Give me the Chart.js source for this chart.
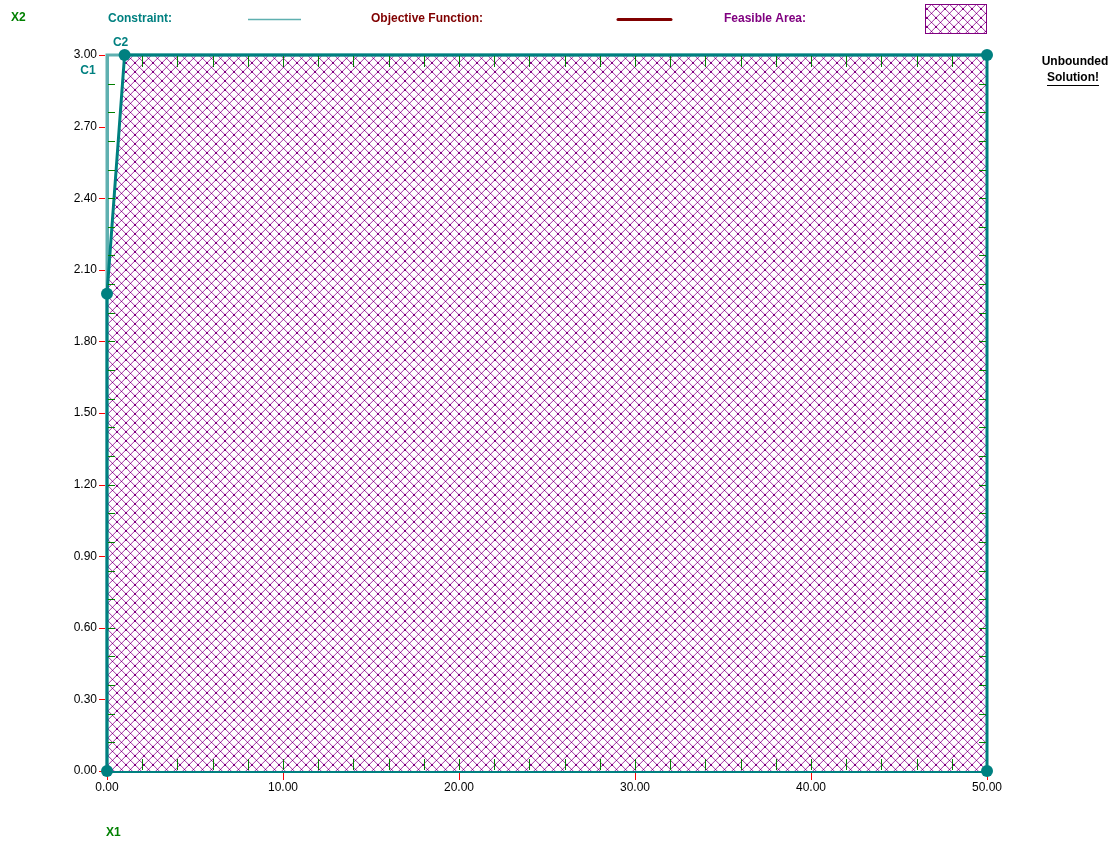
<!DOCTYPE html>
<html>
<head>
<meta charset="utf-8">
<script src="https://cdn.jsdelivr.net/npm/chart.js@4"></script>
<style>
  body { margin: 0; background: #fff; }
  #wrap { width: 1118px; height: 845px; }
</style>
</head>
<body>
<div id="wrap"><canvas id="graph" width="1118" height="845"></canvas></div>
<script>
// feasible region corners (x1, x2)
const feasX = [0, 0, 1, 50, 50];
const feasY = [0, 2, 3, 3, 0];
// constraint lines
const consX = [0, 0, 50];
const consY = [0, 3, 3];
// axis settings
const xMax = 50, xStep = 10, xMinor = 2;
const yMax = 3, yStep = 0.3, yMinor = 0.12;

const TEAL = "#008080";
const LIGHT_TEAL = "#5fb0b0";
const PURPLE = "#800080";
const DARK_RED = "#800000";
const GREEN = "#008000";

function hatch() {
  const n = 9;
  const c = document.createElement("canvas");
  c.width = n; c.height = n;
  const g = c.getContext("2d");
  g.fillStyle = "#fff";
  g.fillRect(0, 0, n, n);
  // soft edge next to each line
  g.fillStyle = "#f0d6f0";
  for (let i = 0; i < n; i++) {
    g.fillRect((i + 1) % n, i, 1, 1);
    g.fillRect((2 * n - 2 - i) % n, i, 1, 1);
  }
  for (let i = 0; i < n; i++) {
    g.fillStyle = (i == 4 || i == 0 || i == n - 1) ? PURPLE : "#b45ab4";
    g.fillRect(i, i, 1, 1);
    g.fillRect(n - 1 - i, i, 1, 1);
  }
  return document.getElementById("graph").getContext("2d").createPattern(c, "repeat");
}
const pattern = hatch();

const extras = {
  id: "extras",
  beforeDatasetsDraw(chart) {
    // hatched feasible area
    const ctx = chart.ctx;
    const xs = chart.scales.x, ys = chart.scales.y;
    ctx.save();
    ctx.beginPath();
    feasX.forEach((x, i) => {
      const px = xs.getPixelForValue(x), py = ys.getPixelForValue(feasY[i]);
      if (i == 0) ctx.moveTo(px, py); else ctx.lineTo(px, py);
    });
    ctx.closePath();
    ctx.fillStyle = pattern;
    ctx.fill();
    ctx.restore();
  },
  afterDatasetsDraw(chart) {
    const ctx = chart.ctx;
    const xs = chart.scales.x, ys = chart.scales.y;
    const a = chart.chartArea;
    ctx.save();
    // green minor ticks inside the frame
    ctx.strokeStyle = GREEN;
    ctx.lineWidth = 1;
    ctx.beginPath();
    for (let v = xMinor; v < xMax - 0.001; v += xMinor) {
      const px = Math.round(xs.getPixelForValue(v)) + 0.5;
      ctx.moveTo(px, a.bottom - 1); ctx.lineTo(px, a.bottom - 12);
      ctx.moveTo(px, a.top + 1); ctx.lineTo(px, a.top + 12);
    }
    for (let v = yMinor; v < yMax - 0.001; v += yMinor) {
      const py = Math.round(ys.getPixelForValue(v)) + 0.5;
      ctx.moveTo(a.left + 1, py); ctx.lineTo(a.left + 8, py);
      ctx.moveTo(a.right - 1, py); ctx.lineTo(a.right - 8, py);
    }
    ctx.stroke();
    // red major ticks outside
    ctx.strokeStyle = "#ff0000";
    ctx.beginPath();
    xs.ticks.forEach(t => {
      const px = Math.round(xs.getPixelForValue(t.value)) + 0.5;
      ctx.moveTo(px, a.bottom + 2); ctx.lineTo(px, a.bottom + 9);
    });
    ys.ticks.forEach(t => {
      const py = Math.round(ys.getPixelForValue(t.value)) + 0.5;
      ctx.moveTo(a.left - 2, py); ctx.lineTo(a.left - 8, py);
    });
    ctx.stroke();
    // corner points on top
    ctx.fillStyle = TEAL;
    for (let i = 0; i < feasX.length; i++) {
      ctx.beginPath();
      ctx.arc(xs.getPixelForValue(feasX[i]), ys.getPixelForValue(feasY[i]), 6, 0, Math.PI * 2);
      ctx.fill();
    }
    // constraint labels
    ctx.font = "bold 12px 'Liberation Sans', Arial, sans-serif";
    ctx.textAlign = "center";
    ctx.textBaseline = "middle";
    ctx.fillStyle = TEAL;
    ctx.fillText("C1", xs.getPixelForValue(0) - 19, ys.getPixelForValue(3) + 16);
    ctx.fillText("C2", xs.getPixelForValue(1) - 4, ys.getPixelForValue(3) - 12);
    ctx.restore();
  },
  afterDraw(chart) {
    const ctx = chart.ctx;
    ctx.save();
    ctx.font = "bold 12px 'Liberation Sans', Arial, sans-serif";
    ctx.textBaseline = "middle";
    ctx.textAlign = "left";
    ctx.fillStyle = GREEN;
    ctx.fillText("X2", 11, 18);
    ctx.fillText("X1", 106, 833);
    ctx.fillStyle = TEAL;
    ctx.fillText("Constraint:", 108, 19);
    ctx.fillStyle = DARK_RED;
    ctx.fillText("Objective Function:", 371, 19);
    ctx.fillStyle = PURPLE;
    ctx.fillText("Feasible Area:", 724, 19);
    // legend samples
    ctx.strokeStyle = LIGHT_TEAL;
    ctx.lineWidth = 1.5;
    ctx.beginPath(); ctx.moveTo(248, 19.5); ctx.lineTo(301, 19.5); ctx.stroke();
    ctx.strokeStyle = DARK_RED;
    ctx.lineWidth = 3;
    ctx.lineCap = "round";
    ctx.beginPath(); ctx.moveTo(618, 19.5); ctx.lineTo(671, 19.5); ctx.stroke();
    ctx.fillStyle = pattern;
    ctx.fillRect(925, 4, 62, 30);
    ctx.strokeStyle = PURPLE;
    ctx.lineWidth = 1;
    ctx.strokeRect(925.5, 4.5, 61, 29);
    // unbounded note
    ctx.fillStyle = "#000";
    ctx.textAlign = "center";
    ctx.fillText("Unbounded", 1075, 62);
    ctx.fillText("Solution!", 1073, 78);
    const w = ctx.measureText("Solution!").width;
    ctx.fillRect(1073 - w / 2, 85, w, 1);
    ctx.restore();
  }
};

new Chart(document.getElementById("graph"), {
  type: "scatter",
  data: {
    datasets: [
      {
        label: "Feasible Area",
        data: feasX.map((x, i) => ({ x: x, y: feasY[i] })),
        showLine: true,
        borderColor: TEAL,
        borderWidth: 3,
        fill: false,
        pointRadius: 0,
        tension: 0,
        clip: false,
        order: 1
      },
      {
        label: "Constraint",
        data: consX.map((x, i) => ({ x: x, y: consY[i] })),
        showLine: true,
        borderColor: LIGHT_TEAL,
        borderWidth: 3,
        pointRadius: 0,
        fill: false,
        clip: false,
        order: 2
      }
    ]
  },
  options: {
    responsive: false,
    animation: false,
    layout: { padding: { left: 0, top: 55, right: 131, bottom: 0 } },
    plugins: { legend: { display: false }, tooltip: { enabled: false } },
    scales: {
      x: {
        type: "linear",
        min: 0, max: xMax,
        afterFit: s => { s.height = 74; },
        border: { display: true, color: TEAL, width: 3 },
        grid: { drawOnChartArea: false, drawTicks: true, tickLength: 8, color: "rgba(0,0,0,0)" },
        ticks: {
          stepSize: xStep,
          maxRotation: 0,
          padding: 1,
          color: "#000",
          font: { family: "'Liberation Sans Narrow', 'Liberation Sans', Arial", size: 12 },
          callback: v => v.toFixed(2)
        }
      },
      y: {
        type: "linear",
        min: 0, max: yMax,
        afterFit: s => { s.width = 107; },
        border: { display: true, color: LIGHT_TEAL, width: 3 },
        grid: { drawOnChartArea: false, drawTicks: true, tickLength: 7, color: "rgba(0,0,0,0)" },
        ticks: {
          stepSize: yStep,
          padding: 3,
          color: "#000",
          font: { family: "'Liberation Sans Narrow', 'Liberation Sans', Arial", size: 12 },
          callback: v => v.toFixed(2)
        }
      }
    }
  },
  plugins: [extras]
});
</script>
</body>
</html>
